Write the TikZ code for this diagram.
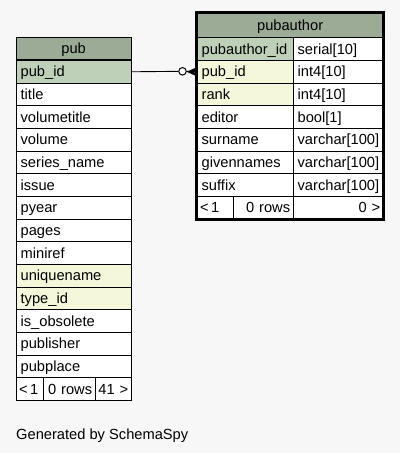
\documentclass[tikz,border=0pt]{standalone}
\usepackage{fontspec}
\setmainfont{Liberation Sans}
\definecolor{headgreen}{HTML}{9BAB96}
\definecolor{keygreen}{HTML}{BED1B8}
\definecolor{idxyellow}{HTML}{F4F7DA}
\definecolor{bggray}{HTML}{F7F7F7}
\tikzset{
  cell/.style={draw, line width=0.9pt, rectangle, anchor=north west, inner xsep=4.5pt, inner ysep=0pt,
    minimum height=22.67pt, text height=12.5pt, text depth=2.5pt, text width=#1, align=left,
    fill=white, font=\fontsize{14.67}{17}\selectfont},
  head/.style={fill=headgreen, align=center},
  key/.style={fill=keygreen},
  idx/.style={fill=idxyellow},
  foot/.style={inner xsep=3pt},
}
\begin{document}
\begin{tikzpicture}[x=1pt, y=-1pt]
    % page and background
    \useasboundingbox (0,0) rectangle (400,453);
    \fill[bggray] (0,0) rectangle (400,453);
    % table pub
    \node[cell=106pt, head] (pub-head) at (15.7,36.7) {pub};
    \node[cell=106pt, key] (pub-pubid) at (15.7,60) {pub\_id};
    \node[cell=106pt] (pub-title) at (15.7,82.67) {title};
    \node[cell=106pt] (pub-voltitle) at (15.7,105.33) {volumetitle};
    \node[cell=106pt] (pub-volume) at (15.7,128) {volume};
    \node[cell=106pt] (pub-series) at (15.7,150.67) {series\_name};
    \node[cell=106pt] (pub-issue) at (15.7,173.33) {issue};
    \node[cell=106pt] (pub-pyear) at (15.7,196) {pyear};
    \node[cell=106pt] (pub-pages) at (15.7,218.67) {pages};
    \node[cell=106pt] (pub-miniref) at (15.7,241.33) {miniref};
    \node[cell=106pt, idx] (pub-unique) at (15.7,264) {uniquename};
    \node[cell=106pt, idx] (pub-typeid) at (15.7,286.67) {type\_id};
    \node[cell=106pt] (pub-obsolete) at (15.7,309.33) {is\_obsolete};
    \node[cell=106pt] (pub-publisher) at (15.7,332) {publisher};
    \node[cell=106pt] (pub-pubplace) at (15.7,354.67) {pubplace};
    \node[cell=21.6pt, foot] (pub-foot-l) at (15.7,377.33) {<\,1};
    \node[cell=45.4pt, foot, align=right] (pub-foot-m) at (43.3,377.33) {0 rows};
    \node[cell=30pt, foot, align=right] (pub-foot-r) at (94.7,377.33) {41 >};
    % table pubauthor
    \node[cell=177pt, head, minimum height=24.67pt] (pa-head) at (196.7,12.7) {pubauthor};
    \node[cell=87pt, key] (pa-id) at (196.7,37.33) {pubauthor\_id};
    \node[cell=81pt] (pa-id-t) at (292.7,37.33) {serial[10]};
    \node[cell=87pt, idx] (pa-pubid) at (196.7,60) {pub\_id};
    \node[cell=81pt] (pa-pubid-t) at (292.7,60) {int4[10]};
    \node[cell=87pt, idx] (pa-rank) at (196.7,82.67) {rank};
    \node[cell=81pt] (pa-rank-t) at (292.7,82.67) {int4[10]};
    \node[cell=87pt] (pa-editor) at (196.7,105.33) {editor};
    \node[cell=81pt] (pa-editor-t) at (292.7,105.33) {bool[1]};
    \node[cell=87pt] (pa-surname) at (196.7,128) {surname};
    \node[cell=81pt] (pa-surname-t) at (292.7,128) {varchar[100]};
    \node[cell=87pt] (pa-given) at (196.7,150.67) {givennames};
    \node[cell=81pt] (pa-given-t) at (292.7,150.67) {varchar[100]};
    \node[cell=87pt] (pa-suffix) at (196.7,173.33) {suffix};
    \node[cell=81pt] (pa-suffix-t) at (292.7,173.33) {varchar[100]};
    \node[cell=30.6pt, foot] (pa-foot-l) at (196.7,196) {<\,1};
    \node[cell=53.4pt, foot, align=right] (pa-foot-m) at (233.3,196) {0 rows};
    \node[cell=84pt, foot, align=right] (pa-foot-r) at (292.7,196) {0 >};
    \draw[line width=2.5pt] (pa-head.north west) rectangle (pa-foot-r.south east);% bold frame
    % relation pub -> pubauthor
    \node[draw, circle, line width=1pt, fill=white, inner sep=0pt, minimum size=7.5pt] (pa-opt) at (182.5,71.33) {};
    \draw[line width=0.9pt] (pub-pubid.east) -- (pa-opt.west);
    \draw[line width=0.9pt] (pa-opt.east) -- (pa-pubid.west);
    \fill (pa-pubid.west) ++(-10,0) -- ++(10,-4.5) -- ++(-2.5,4.5) -- ++(2.5,4.5) -- cycle;% crow's foot
    % footer text
    \node[anchor=base west, inner sep=0pt, font=\fontsize{14.67}{17}\selectfont] (credit) at (16,439.3) {Generated by SchemaSpy};
  \end{tikzpicture}
\end{document}
